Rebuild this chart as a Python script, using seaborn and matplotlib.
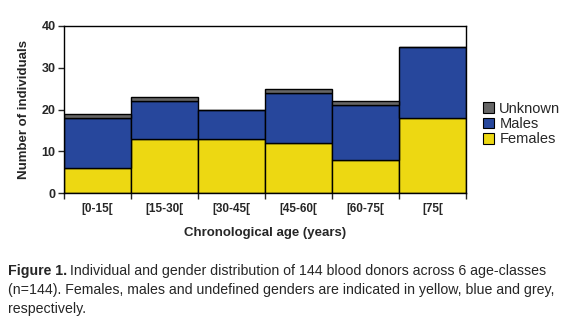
import matplotlib
matplotlib.use("Agg")
import matplotlib.pyplot as plt
import seaborn as sns
import numpy as np
import pandas as pd
from matplotlib.patches import Patch

age_classes = ["[0-15[", "[15-30[", "[30-45[", "[45-60[", "[60-75[", "[75["]
females = [6, 13, 13, 12, 8, 18]
males = [12, 9, 7, 12, 13, 17]
unknown = [1, 1, 0, 1, 1, 0]

sns.set_theme(style="white")
plt.rcParams["font.family"] = ["Liberation Sans", "DejaVu Sans"]

df = pd.DataFrame({"age": age_classes, "Females": females,
                   "Males": males, "Unknown": unknown})

fig = plt.figure(figsize=(5.75, 3.24), dpi=100)
ax = fig.add_axes([64 / 575, 1 - 193 / 324, (466 - 64) / 575, (193 - 26) / 324])

colors = {"Females": "#EDD812", "Males": "#27479C", "Unknown": "#666666"}
f = np.array(females)
m = np.array(males)
sns.barplot(data=df, x="age", y="Females", color=colors["Females"], width=1.0,
            edgecolor="black", linewidth=1.0, saturation=1, ax=ax)
sns.barplot(data=df, x="age", y="Males", color=colors["Males"], width=1.0,
            bottom=f, edgecolor="black", linewidth=1.0, saturation=1, ax=ax)
sns.barplot(data=df, x="age", y="Unknown", color=colors["Unknown"], width=1.0,
            bottom=f + m, edgecolor="black", linewidth=1.0, saturation=1, ax=ax)

ax.set_xlim(-0.5, len(age_classes) - 0.5)
ax.set_ylim(0, 40)
ax.set_yticks([0, 10, 20, 30, 40])
ax.set_yticklabels(["0", "10", "20", "30", "40"], fontsize=9, fontweight="bold")
ax.set_xticks(range(len(age_classes)))
ax.set_xticklabels(age_classes, fontsize=8.5, fontweight="bold")
ax.tick_params(axis="x", length=0, pad=7)
ax.tick_params(axis="y", length=4, width=1, direction="out", left=True, pad=2)
# boundary ticks between age classes
ax.set_xticks(np.arange(-0.5, len(age_classes)), minor=True)
ax.tick_params(axis="x", which="minor", length=4, width=1, direction="out", bottom=True)

for s in ax.spines.values():
    s.set_visible(True)
    s.set_color("black")
    s.set_linewidth(1.0)

ax.set_ylabel("Number of individuals", fontsize=9.5, fontweight="bold", labelpad=8)
ax.set_xlabel("Chronological age (years)", fontsize=9.5, fontweight="bold", labelpad=9)

handles = [Patch(facecolor=colors[k], edgecolor="black", linewidth=0.8)
           for k in ["Unknown", "Males", "Females"]]
fig.legend(handles, ["Unknown", "Males", "Females"], loc="center left",
           bbox_to_anchor=(476 / 575, 1 - 124 / 324), frameon=False,
           fontsize=10.5, handlelength=0.75, handleheight=0.75, handletextpad=0.35,
           labelspacing=0.1, borderpad=0)

# caption
cap_size = 10.2
x0 = 8 / 575
head = fig.text(x0, 1 - 271 / 324, "Figure 1.", fontsize=cap_size,
                fontweight="bold", va="center", ha="left")
renderer = fig.canvas.get_renderer()
bb = head.get_window_extent(renderer=renderer)
fig.text(bb.x1 / fig.bbox.width + 3 / 575, 1 - 271 / 324,
         "Individual and gender distribution of 144 blood donors across 6 age-classes",
         fontsize=cap_size, va="center", ha="left")
fig.text(x0, 1 - 290 / 324,
         "(n=144). Females, males and undefined genders are indicated in yellow, blue and grey,",
         fontsize=cap_size, va="center", ha="left")
fig.text(x0, 1 - 309 / 324, "respectively.", fontsize=cap_size, va="center", ha="left")

fig.savefig("out.png", dpi=100)
